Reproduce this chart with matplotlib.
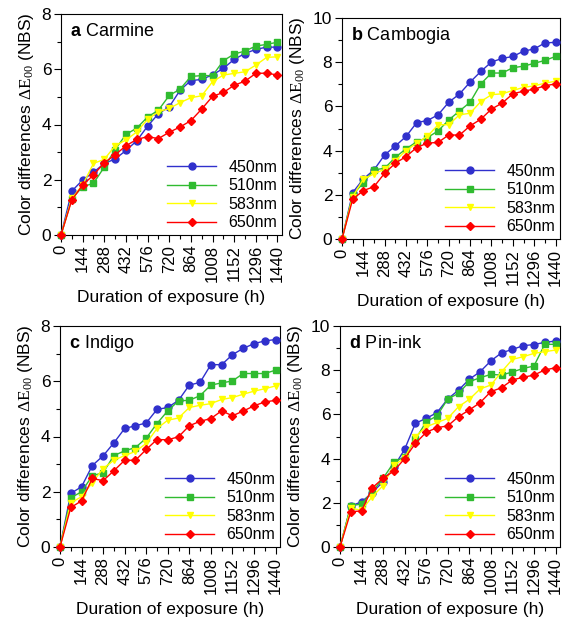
import numpy as np
import matplotlib
matplotlib.use("Agg")
import matplotlib.pyplot as plt

plt.rcParams['font.family'] = ['Liberation Sans', 'DejaVu Sans']
plt.rcParams['mathtext.fontset'] = 'custom'
plt.rcParams['mathtext.rm'] = 'Liberation Serif'
plt.rcParams['mathtext.it'] = 'Liberation Serif:italic'
plt.rcParams['mathtext.bf'] = 'Liberation Sans:bold'

# exposure time (h), one reading every 72 h
hours = np.arange(0, 1441, 72)
tick_hours = np.arange(0, 1441, 144)

wavelengths = ['450nm', '510nm', '583nm', '650nm']
colors = ['#3030CC', '#30BB30', '#FFFF00', '#FF0000']
markers = ['o', 's', 'v', 'D']

panel_letters = ['a', 'b', 'c', 'd']
panel_names = ['Carmine', 'Cambogia', 'Indigo', 'Pin-ink']
ymax_list = [8, 10, 8, 10]

# a Carmine
carmine_450 = [0, 1.59, 1.99, 2.27, 2.59, 2.75, 3.06, 3.41, 3.94, 4.39, 4.64,
               5.24, 5.59, 5.63, 5.80, 6.03, 6.36, 6.57, 6.72, 6.80, 6.80]
carmine_510 = [0, 1.31, 1.75, 1.87, 2.46, 3.09, 3.64, 3.87, 4.27, 4.52, 5.05,
               5.28, 5.74, 5.77, 5.77, 6.31, 6.55, 6.66, 6.84, 6.90, 6.98]
carmine_583 = [0, 1.33, 1.81, 2.59, 2.74, 3.23, 3.44, 3.73, 4.19, 4.46, 4.58,
               4.79, 4.97, 5.04, 5.55, 5.79, 5.85, 5.91, 6.15, 6.43, 6.45]
carmine_650 = [0, 1.27, 1.81, 2.17, 2.62, 2.90, 3.23, 3.46, 3.56, 3.49, 3.72,
               3.91, 4.14, 4.56, 5.02, 5.16, 5.42, 5.57, 5.85, 5.86, 5.79]

# b Cambogia
cambogia_450 = [0, 2.10, 2.72, 3.13, 3.81, 4.21, 4.64, 5.27, 5.36, 5.62, 6.19,
                6.56, 7.10, 7.58, 8.01, 8.17, 8.26, 8.50, 8.60, 8.87, 8.90]
cambogia_510 = [0, 1.99, 2.55, 3.13, 3.20, 3.70, 4.08, 4.40, 4.59, 4.89, 5.39,
                5.79, 6.19, 7.02, 7.51, 7.51, 7.75, 7.82, 7.95, 8.08, 8.26]
cambogia_583 = [0, 1.92, 2.70, 2.95, 3.16, 3.55, 4.00, 4.34, 4.65, 5.17, 5.17,
                5.62, 5.69, 6.22, 6.53, 6.57, 6.72, 6.86, 6.93, 7.05, 7.14]
cambogia_650 = [0, 1.80, 2.19, 2.37, 2.98, 3.43, 3.73, 4.14, 4.34, 4.37, 4.71,
                4.70, 5.12, 5.42, 5.88, 6.15, 6.57, 6.69, 6.78, 6.93, 7.02]

# c Indigo
indigo_450 = [0, 1.94, 2.18, 2.95, 3.30, 3.77, 4.29, 4.39, 4.49, 4.98, 5.05,
              5.31, 5.86, 5.96, 6.60, 6.60, 6.96, 7.19, 7.36, 7.46, 7.51]
indigo_510 = [0, 1.78, 2.00, 2.58, 2.69, 3.31, 3.48, 3.60, 3.94, 4.47, 4.93,
              5.29, 5.31, 5.48, 5.86, 5.94, 6.01, 6.28, 6.28, 6.28, 6.40]
indigo_583 = [0, 1.60, 1.82, 2.33, 2.84, 3.14, 3.31, 3.46, 3.75, 4.29, 4.59,
              4.67, 5.05, 5.13, 5.19, 5.34, 5.41, 5.53, 5.64, 5.73, 5.83]
indigo_650 = [0, 1.43, 1.67, 2.48, 2.40, 2.76, 3.14, 3.14, 3.53, 3.89, 3.88,
              3.99, 4.39, 4.55, 4.65, 4.93, 4.75, 4.92, 5.11, 5.25, 5.31]

# d Pin-ink
pinink_450 = [0, 1.86, 2.04, 2.46, 2.96, 3.63, 4.42, 5.60, 5.82, 6.08, 6.70,
              7.10, 7.59, 7.93, 8.42, 8.79, 8.94, 9.11, 9.16, 9.26, 9.32]
pinink_510 = [0, 1.86, 1.95, 2.50, 3.11, 3.83, 4.09, 4.87, 5.67, 5.93, 6.70,
              6.95, 7.48, 7.66, 7.81, 7.78, 7.92, 8.08, 8.19, 9.17, 9.17]
pinink_583 = [0, 1.75, 1.67, 2.28, 2.78, 3.71, 4.01, 4.99, 5.44, 5.63, 5.82,
              6.35, 6.68, 7.15, 7.33, 7.93, 8.49, 8.61, 8.76, 8.84, 8.91]
pinink_650 = [0, 1.60, 1.63, 2.68, 3.11, 3.44, 4.00, 4.69, 5.19, 5.40, 5.48,
              5.90, 6.20, 6.53, 7.03, 7.21, 7.56, 7.68, 7.78, 8.01, 8.11]

panel_data = [
    [carmine_450, carmine_510, carmine_583, carmine_650],
    [cambogia_450, cambogia_510, cambogia_583, cambogia_650],
    [indigo_450, indigo_510, indigo_583, indigo_650],
    [pinink_450, pinink_510, pinink_583, pinink_650],
]

W, H = 563, 626
fig = plt.figure(figsize=(W / 100, H / 100), dpi=100)

# axes boxes in pixels: left, top, right, bottom
boxes = [(61, 14, 282, 235), (342, 18, 560, 239),
         (60, 326, 280, 547), (340, 326, 560, 547)]

for k in range(4):
    l, t, r, b = boxes[k]
    ax = fig.add_axes([l / W, 1 - b / H, (r - l) / W, (b - t) / H])
    for series, c, m, lab in zip(panel_data[k], colors, markers, wavelengths):
        ax.plot(hours, series, color=c, marker=m, markersize=5 if m != 'D' else 4.5,
                linewidth=1.0, label=lab, clip_on=False, zorder=3)

    ax.set_xlim(0, 1470)
    ax.set_ylim(0, ymax_list[k])
    ax.set_xticks(tick_hours)
    ax.set_xticks(hours, minor=True)
    ax.set_xticklabels([str(v) for v in tick_hours], rotation=90, fontsize=12)
    ax.set_yticks(np.arange(0, ymax_list[k] + 1, 2))
    ax.set_yticks(np.arange(0, ymax_list[k] + 1, 1), minor=True)
    ax.tick_params(axis='y', labelsize=12.5)
    ax.tick_params(which='major', length=5, width=0.8, pad=2)
    ax.tick_params(which='minor', length=3, width=0.8)

    ax.set_xlabel('Duration of exposure (h)', fontsize=12.5, labelpad=6)
    ax.set_ylabel(r'Color differences $\Delta\mathrm{E}_{00}$ (NBS)', fontsize=12.5, labelpad=4)

    ax.text(0.04, 0.92, r'$\mathbf{' + panel_letters[k] + '}$ ' + panel_names[k],
            transform=ax.transAxes, fontsize=13, va='center', ha='left')

    ax.legend(loc='lower right', frameon=False, fontsize=11.5, handlelength=3.1,
              handletextpad=0.75, labelspacing=0.22, borderaxespad=0.1,
              borderpad=0.2)

plt.savefig('out.png', dpi=100)
